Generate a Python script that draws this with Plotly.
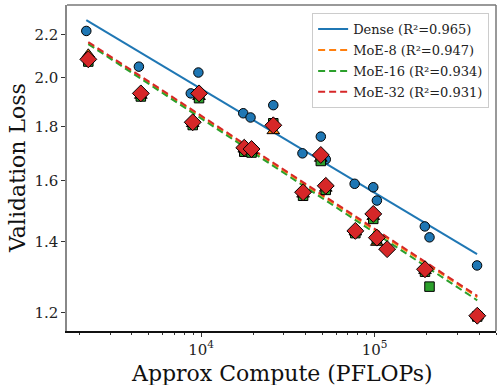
import numpy as np
import plotly.graph_objects as go

# ---- data ----
dense_x = [2183, 4385, 8727, 9653, 17500, 19280, 26070, 38380, 48960, 52300,
           76700, 98200, 103000, 194500, 207000, 389000]
dense_y = [2.216, 2.050, 1.934, 2.024, 1.852, 1.835, 1.885, 1.697, 1.760, 1.675,
           1.588, 1.576, 1.531, 1.447, 1.413, 1.329]

moe8_x = [2242, 4500, 8955, 9740, 17740, 19540, 26070, 38700, 48960, 52300,
          77400, 98200, 103000, 195000, 390000]
moe8_y = [2.106, 1.925, 1.810, 1.920, 1.712, 1.706, 1.782, 1.552, 1.678, 1.572,
          1.429, 1.478, 1.397, 1.314, 1.190]

moe16_x = [2242, 4500, 8955, 9740, 17740, 19540, 26070, 38700, 48960, 52300,
           77400, 98200, 103000, 195000, 207000, 390000]
moe16_y = [2.073, 1.921, 1.805, 1.914, 1.703, 1.700, 1.812, 1.547, 1.669, 1.567,
           1.426, 1.471, 1.407, 1.311, 1.269, 1.189]

moe32_x = [2242, 4500, 8955, 9740, 17740, 19540, 26070, 38700, 48960, 52300,
           77400, 98200, 103000, 118000, 195000, 390000]
moe32_y = [2.083, 1.934, 1.816, 1.934, 1.718, 1.713, 1.804, 1.559, 1.691, 1.581,
           1.433, 1.487, 1.412, 1.377, 1.318, 1.191]

series_names = ["Dense", "MoE-8", "MoE-16", "MoE-32"]
r2_labels = ["0.965", "0.947", "0.934", "0.931"]
colors = ["#1f77b4", "#ff7f0e", "#2ca02c", "#d62728"]
symbols = ["circle", "triangle-up", "square", "diamond"]
marker_sizes = [9.5, 11, 9.5, 13]

y_tick_vals = [1.2, 1.4, 1.6, 1.8, 2.0, 2.2]
x_tick_vals = [1e4, 1e5]
x_tick_text = ["10<sup>4</sup>", "10<sup>5</sup>"]

FONT = "DejaVu Serif"

xs = [dense_x, moe8_x, moe16_x, moe32_x]
ys = [dense_y, moe8_y, moe16_y, moe32_y]

fig = go.Figure()

# fit lines (power law fit in log-log space)
for i, (x, y) in enumerate(zip(xs, ys)):
    lx = np.log(np.array(x, dtype=float))
    ly = np.log(np.array(y, dtype=float))
    b, a = np.polyfit(lx, ly, 1)
    fx = np.array([min(x), max(x)], dtype=float)
    fy = np.exp(a + b * np.log(fx))
    fig.add_trace(go.Scatter(
        x=fx, y=fy, mode="lines",
        line=dict(color=colors[i], width=2, dash="solid" if i == 0 else "7px,4px"),
        name=f"{series_names[i]} (R²={r2_labels[i]})",
        legendgroup=f"g{i}",
        showlegend=True,
    ))

# markers
for i, (x, y) in enumerate(zip(xs, ys)):
    fig.add_trace(go.Scatter(
        x=x, y=y, mode="markers",
        marker=dict(symbol=symbols[i], size=marker_sizes[i], color=colors[i],
                    line=dict(color="black", width=1)),
        showlegend=False,
    ))

# minor ticks on x (log)
minor_x = [m * 10 ** e for e in (3, 4, 5) for m in range(2, 10)]
minor_x = [v for v in minor_x if 1690 <= v <= 5.0e5 and v not in x_tick_vals]

fig.update_layout(
    width=497, height=385,
    margin=dict(l=67, r=1, t=5, b=54),
    paper_bgcolor="white", plot_bgcolor="white",
    font=dict(family=FONT, color="#222"),
    showlegend=True,
    legend=dict(
        x=0.984, y=0.975, xanchor="right", yanchor="top",
        bordercolor="#cccccc", borderwidth=1, bgcolor="rgba(255,255,255,0.9)",
        font=dict(family=FONT, size=13, color="#222"),
        itemwidth=30, tracegroupgap=1,
    ),
    xaxis=dict(
        type="log", range=[np.log10(1690), np.log10(5.0e5)],
        tickmode="array", tickvals=x_tick_vals, ticktext=x_tick_text,
        ticks="outside", ticklen=4, tickcolor="#333", tickwidth=1,
        tickfont=dict(family=FONT, size=15, color="#222"),
        showgrid=False, zeroline=False,
        showline=True, linecolor="#111", linewidth=1.5,
        minor=dict(tickmode="array", tickvals=minor_x, ticks="outside",
                   ticklen=2.5, tickcolor="#333", showgrid=False),
    ),
    yaxis=dict(
        type="log", range=[np.log10(1.152), np.log10(2.345)],
        tickmode="array", tickvals=y_tick_vals,
        ticktext=[f"{v:.1f}" for v in y_tick_vals],
        ticks="outside", ticklen=4, tickcolor="#333", tickwidth=1,
        tickfont=dict(family=FONT, size=15, color="#222"),
        showgrid=False, zeroline=False,
        showline=True, linecolor="#888", linewidth=1.5,
    ),
    shapes=[
        dict(type="line", xref="paper", yref="paper", x0=0, x1=1, y0=1, y1=1,
             line=dict(color="#777", width=1.5)),
        dict(type="line", xref="paper", yref="paper", x0=1, x1=1, y0=0, y1=1,
             line=dict(color="#777", width=1.5)),
    ],
    annotations=[
        dict(text="Validation Loss", xref="paper", yref="paper",
             x=-50 / 430, y=0.5, xanchor="center", yanchor="middle",
             textangle=-90, showarrow=False,
             font=dict(family=FONT, size=22, color="#111")),
        dict(text="Approx Compute (PFLOPs)", xref="paper", yref="paper",
             x=0.5, y=-42 / 326, xanchor="center", yanchor="middle",
             showarrow=False,
             font=dict(family=FONT, size=22, color="#111")),
    ],
)

fig.write_html("out.html")
